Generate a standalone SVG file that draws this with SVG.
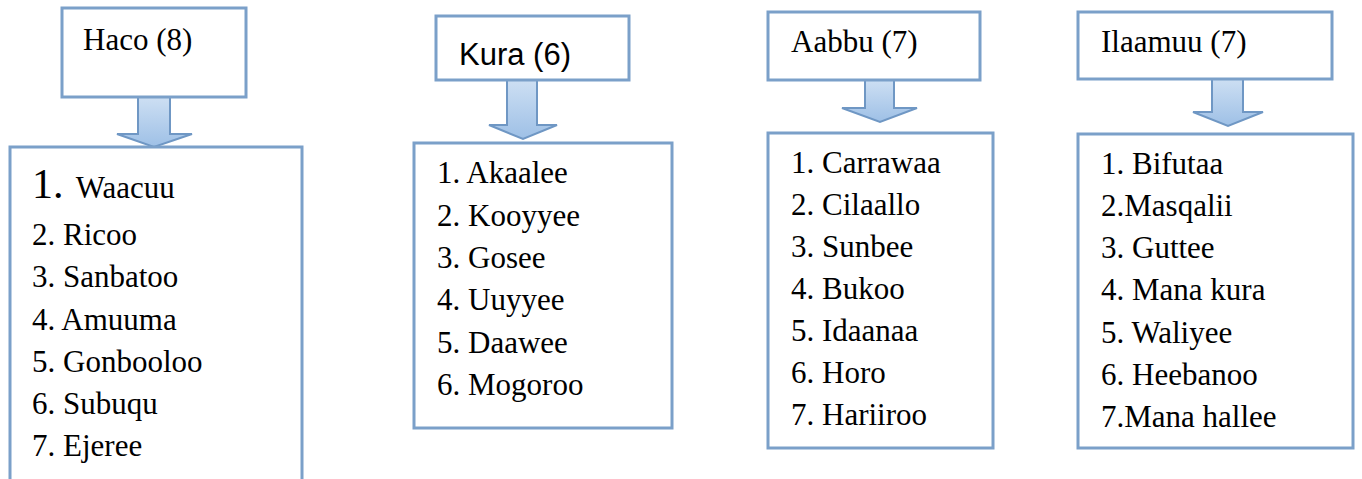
<svg xmlns="http://www.w3.org/2000/svg" width="1362" height="479" viewBox="0 0 1362 479">
<style>
.box{fill:#ffffff;stroke:#7ba0c9;stroke-width:3}
.t{font-family:"Liberation Serif","Times New Roman",serif;font-size:31px;fill:#000}
.s{font-family:"Liberation Sans",Arial,sans-serif;font-size:31px;fill:#000}
.arr{fill:url(#g);stroke:#6f97c4;stroke-width:2;stroke-linejoin:miter}
</style>
<defs>
<linearGradient id="g" x1="0" y1="0" x2="0" y2="1">
<stop offset="0" stop-color="#cddff3"/>
<stop offset="1" stop-color="#9ec0e6"/>
</linearGradient>
</defs>
<rect width="1362" height="479" fill="#ffffff"/>
<g id="connectors">
<polygon class="arr" points="138,97 170,97 170,134 192,134 154,147 117,134 138,134"/>
<polygon class="arr" points="507,80 537,80 537,125 557,125 523,139 489,125 507,125"/>
<polygon class="arr" points="865,80 894,80 894,108 917,108 880,122 842,108 865,108"/>
<polygon class="arr" points="1212,79 1243,79 1243,112 1263,112 1228,126 1193,112 1212,112"/>
</g>
<g id="haco">
<rect class="box" x="62" y="8" width="184" height="89"/>
<text class="t" x="83" y="50">Haco (8)</text>
</g>
<g id="haco-list">
<rect class="box" x="10" y="147" width="292" height="345"/>
<text class="t" x="32" y="198"><tspan font-size="42">1.</tspan><tspan dx="5"> Waacuu</tspan></text>
<text class="t" x="32" y="245">2. Ricoo</text>
<text class="t" x="32" y="287">3. Sanbatoo</text>
<text class="t" x="32" y="330">4. Amuuma</text>
<text class="t" x="32" y="372">5. Gonbooloo</text>
<text class="t" x="32" y="414">6. Subuqu</text>
<text class="t" x="32" y="456">7. Ejeree</text>
</g>
<g id="kura">
<rect class="box" x="436" y="16" width="193" height="64"/>
<text class="s" x="459" y="65">Kura (6)</text>
</g>
<g id="kura-list">
<rect class="box" x="414" y="143" width="258" height="285"/>
<text class="t" x="437" y="183">1. Akaalee</text>
<text class="t" x="437" y="226">2. Kooyyee</text>
<text class="t" x="437" y="268">3. Gosee</text>
<text class="t" x="437" y="310">4. Uuyyee</text>
<text class="t" x="437" y="353">5. Daawee</text>
<text class="t" x="437" y="395">6. Mogoroo</text>
</g>
<g id="aabbu">
<rect class="box" x="768" y="12" width="212" height="68"/>
<text class="t" x="791" y="52">Aabbu (7)</text>
</g>
<g id="aabbu-list">
<rect class="box" x="768" y="133" width="225" height="315"/>
<text class="t" x="791" y="173">1. Carrawaa</text>
<text class="t" x="791" y="215">2. Cilaallo</text>
<text class="t" x="791" y="257">3. Sunbee</text>
<text class="t" x="791" y="299">4. Bukoo</text>
<text class="t" x="791" y="341">5. Idaanaa</text>
<text class="t" x="791" y="383">6. Horo</text>
<text class="t" x="791" y="425">7. Hariiroo</text>
</g>
<g id="ilaamuu">
<rect class="box" x="1078" y="12" width="254" height="67"/>
<text class="t" x="1101" y="52">Ilaamuu (7)</text>
</g>
<g id="ilaamuu-list">
<rect class="box" x="1078" y="134" width="275" height="314"/>
<text class="t" x="1101" y="174">1. Bifutaa</text>
<text class="t" x="1101" y="216">2.Masqalii</text>
<text class="t" x="1101" y="258">3. Guttee</text>
<text class="t" x="1101" y="300">4. Mana kura</text>
<text class="t" x="1101" y="343">5. Waliyee</text>
<text class="t" x="1101" y="385">6. Heebanoo</text>
<text class="t" x="1101" y="427">7.Mana hallee</text>
</g>
</svg>
